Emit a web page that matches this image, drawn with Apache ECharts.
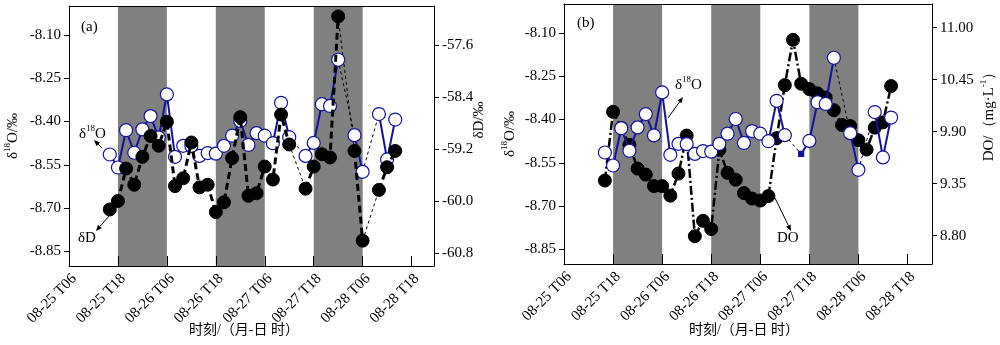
<!DOCTYPE html>
<html>
<head>
<meta charset="utf-8">
<script src="https://cdn.jsdelivr.net/npm/echarts@6/dist/echarts.min.js"></script>
<style>
  html, body { margin: 0; padding: 0; background: #fff; }
  #chart { width: 1000px; height: 345px; }
</style>
</head>
<body>
<div id="chart"></div>
<script>
// Time is counted in hours after 08-25 06:00.
const TICK_HOURS = [0, 12, 24, 36, 48, 60, 72, 84];
const TICK_LABELS = ['08-25 T06', '08-25 T18', '08-26 T06', '08-26 T18',
                     '08-27 T06', '08-27 T18', '08-28 T06', '08-28 T18'];

// Night periods (18:00 - 06:00), shaded grey
const NIGHT_START = [12, 36, 60];
const NIGHT_END = [24, 48, 72];

// Isotope sampling times and values
const ISO_HOURS = [10, 12, 14, 16, 18, 20, 22, 24, 26, 28, 30, 32, 34, 36, 38, 40, 42,
                   44, 46, 48, 50, 52, 54, 58, 60, 62, 64, 66, 70, 72, 76, 78, 80];
const D18O = [-8.514, -8.559, -8.430, -8.508, -8.427, -8.381, -8.455, -8.306, -8.522,
              -8.484, -8.485, -8.519, -8.509, -8.511, -8.484, -8.449, -8.398, -8.481,
              -8.440, -8.449, -8.475, -8.335, -8.454, -8.519, -8.474, -8.340, -8.346,
              -8.186, -8.447, -8.574, -8.374, -8.531, -8.393];
const DD = [-60.13, -60.00, -59.50, -59.75, -59.32, -59.00, -59.15, -58.78, -59.77,
            -59.65, -59.10, -59.79, -59.75, -60.17, -60.02, -59.34, -58.71, -59.92,
            -59.88, -59.47, -59.67, -58.67, -59.13, -59.81, -59.47, -59.28, -59.33,
            -57.16, -59.23, -60.61, -59.83, -59.48, -59.23];

// Dissolved oxygen sampling times and values (mg/L)
const DO_HOURS = [10, 12, 14, 16, 18, 20, 22, 24, 26, 28, 30, 32, 34, 36, 38, 40, 42, 44,
                  46, 48, 50, 52, 54, 56, 58, 60, 62, 64, 66, 68, 70, 72, 74, 76, 78, 80];
const DO = [9.383, 10.110, 9.94, 9.76, 9.509, 9.446, 9.324, 9.324, 9.223, 9.457, 9.858,
            8.794, 8.957, 8.870, 9.708, 9.464, 9.391, 9.250, 9.192, 9.171, 9.219, 9.831,
            10.392, 10.871, 10.407, 10.350, 10.305, 10.260, 10.127, 9.970, 9.960, 9.810,
            9.711, 9.942, 9.998, 10.382];

// Axis ticks
const O_TICKS = [-8.85, -8.70, -8.55, -8.40, -8.25, -8.10];
const D_TICKS = [-60.8, -60.0, -59.2, -58.4, -57.6];
const DO_TICKS = [8.80, 9.35, 9.90, 10.45, 11.00];

// sample shown only as a small marker in panel (b)
const B_SMALL_MARK_HOUR = 58;

const FONT = 'Liberation Serif';
const CJK = '"Liberation Serif", "Noto Sans CJK SC"';
const BLUE = '#12129e';

// Split a sampled series into a solid part (2 h steps) and thin bridges over longer gaps
function splitRuns(hours, vals) {
  const main = [], gaps = [];
  for (let i = 0; i < hours.length; i++) {
    main.push([hours[i], vals[i]]);
    if (i < hours.length - 1 && hours[i + 1] - hours[i] > 2) {
      main.push([hours[i] + 1, null]);
      gaps.push([hours[i], vals[i]], [hours[i + 1], vals[i + 1]], [hours[i + 1] + 0.5, null]);
    }
  }
  return { main, gaps };
}

const iso18 = splitRuns(ISO_HOURS, D18O);
const isoD = splitRuns(ISO_HOURS, DD);
const doRun = splitRuns(DO_HOURS, DO);

const nightAreas = NIGHT_START.map((s, i) => [{ xAxis: s }, { xAxis: NIGHT_END[i] }]);

const supRich = {
  n: { fontFamily: FONT, fontSize: 15, color: '#000', lineHeight: 18, verticalAlign: 'bottom' },
  s: { fontFamily: FONT, fontSize: 9, color: '#000', lineHeight: 18, verticalAlign: 'top' }
};

function xBottom(g, max) {
  return {
    type: 'value', gridIndex: g, min: 0, max: max, position: 'bottom', z: 5,
    axisLine: { show: true, onZero: false, lineStyle: { color: '#000', width: 1 } },
    axisTick: { show: true, inside: true, length: 10, customValues: TICK_HOURS,
                lineStyle: { color: '#000', width: 1 } },
    axisLabel: { customValues: TICK_HOURS, rotate: 45, margin: 5, verticalAlign: 'top',
                 fontFamily: FONT, fontSize: 15, color: '#000',
                 formatter: v => TICK_LABELS[TICK_HOURS.indexOf(v)] },
    splitLine: { show: false }
  };
}
function xTop(g, max) {
  return {
    type: 'value', gridIndex: g, min: 0, max: max, position: 'top', z: 5,
    axisLine: { show: true, onZero: false, lineStyle: { color: '#000', width: 1 } },
    axisTick: { show: false }, axisLabel: { show: false }, splitLine: { show: false }
  };
}
function yAxis(g, side, min, max, ticks, digits, extra) {
  return Object.assign({
    type: 'value', gridIndex: g, min: min, max: max, position: side, z: 5,
    axisLine: { show: true, onZero: false, lineStyle: { color: '#000', width: 1 } },
    axisTick: { show: true, inside: false, length: 5, customValues: ticks,
                lineStyle: { color: '#000', width: 1 } },
    axisLabel: { customValues: ticks, margin: 8, fontFamily: FONT, fontSize: 15, color: '#000',
                 formatter: v => v.toFixed(digits) },
    splitLine: { show: false }
  }, extra || {});
}

const oName = {
  name: '{n|δ}{s|18}{n|O/‰}', nameLocation: 'middle', nameRotate: 90,
  nameTextStyle: { rich: supRich }
};

function bandSeries(xi, yi) {
  return {
    type: 'line', xAxisIndex: xi, yAxisIndex: yi, data: [], silent: true, z: 1,
    markArea: { silent: true, itemStyle: { color: '#808080', opacity: 1 }, data: nightAreas }
  };
}
function bridge(xi, yi, data, z) {
  return {
    type: 'line', xAxisIndex: xi, yAxisIndex: yi, data: data, showSymbol: false, symbol: 'none',
    connectNulls: false, silent: true, z: z,
    lineStyle: { color: '#000', width: 1, type: [3, 3] }
  };
}

// panel (b) marks the sample at B_SMALL_MARK_HOUR with a small square
const iso18B = iso18.main.map(p => p[0] === B_SMALL_MARK_HOUR && p[1] !== null
  ? { value: p, symbol: 'rect', symbolSize: 5, itemStyle: { color: BLUE, borderColor: BLUE } }
  : p);

function arrow(x1, y1, x2, y2) {
  // line from (x1,y1) with an arrow head at (x2,y2)
  const a = Math.atan2(y2 - y1, x2 - x1), L = 6, W = 2.5;
  const bx = x2 - L * Math.cos(a), by = y2 - L * Math.sin(a);
  return [
    { type: 'line', shape: { x1: x1, y1: y1, x2: bx, y2: by },
      style: { stroke: '#000', lineWidth: 1 }, z: 20 },
    { type: 'polygon', shape: { points: [[x2, y2],
        [bx + W * Math.sin(a), by - W * Math.cos(a)],
        [bx - W * Math.sin(a), by + W * Math.cos(a)]] },
      style: { fill: '#000' }, z: 20 }
  ];
}

const gRich = {
  n: { fontFamily: FONT, fontSize: 15, fill: '#000', lineHeight: 18, verticalAlign: 'bottom' },
  s: { fontFamily: FONT, fontSize: 9, fill: '#000', lineHeight: 18, verticalAlign: 'top' }
};
function label(x, y, text, rich, opts) {
  return Object.assign({
    type: 'text', x: x, y: y, z: 20,
    style: Object.assign({ text: text, fontFamily: FONT, fontSize: 15, fill: '#000' },
                         rich ? { rich: gRich } : {})
  }, opts || {});
}

const chart = echarts.init(document.getElementById('chart'), null, { renderer: 'canvas' });
chart.setOption({
  animation: false,
  backgroundColor: '#fff',
  grid: [
    { left: 69, top: 6, width: 365, height: 260, containLabel: false },
    { left: 564, top: 4, width: 368, height: 260, containLabel: false }
  ],
  xAxis: [xBottom(0, 89.5), xTop(0, 89.5), xBottom(1, 90), xTop(1, 90)],
  yAxis: [
    yAxis(0, 'left', -8.9, -8.0, O_TICKS, 2, Object.assign({ nameGap: 48 }, oName)),
    yAxis(0, 'right', -61, -57, D_TICKS, 1),
    yAxis(1, 'left', -8.9, -8.0, O_TICKS, 2, Object.assign({ nameGap: 46 }, oName)),
    yAxis(1, 'right', 8.5, 11.25, DO_TICKS, 2)
  ],
  series: [
    // panel (a)
    bandSeries(0, 0),
    bridge(0, 0, iso18.gaps, 2),
    bridge(0, 1, isoD.gaps, 2),
    {
      name: 'δ18O', type: 'line', xAxisIndex: 0, yAxisIndex: 0, data: iso18.main,
      connectNulls: false, symbol: 'circle', symbolSize: 13, z: 3,
      lineStyle: { color: BLUE, width: 2 },
      itemStyle: { color: '#fff', borderColor: BLUE, borderWidth: 1.2 }
    },
    {
      name: 'δD', type: 'line', xAxisIndex: 0, yAxisIndex: 1, data: isoD.main,
      connectNulls: false, symbol: 'circle', symbolSize: 13, z: 4,
      lineStyle: { color: '#000', width: 3, type: [7, 4] },
      itemStyle: { color: '#000', borderColor: '#000' }
    },
    // panel (b)
    bandSeries(2, 2),
    bridge(2, 2, iso18.gaps, 2),
    {
      name: 'DO', type: 'line', xAxisIndex: 2, yAxisIndex: 3, data: doRun.main,
      connectNulls: false, symbol: 'circle', symbolSize: 13, z: 3,
      lineStyle: { color: '#000', width: 2.5, type: [9, 3, 2, 3] },
      itemStyle: { color: '#000', borderColor: '#000' }
    },
    {
      name: 'δ18O ', type: 'line', xAxisIndex: 2, yAxisIndex: 2, data: iso18B,
      connectNulls: false, symbol: 'circle', symbolSize: 13, z: 4,
      lineStyle: { color: BLUE, width: 2 },
      itemStyle: { color: '#fff', borderColor: BLUE, borderWidth: 1.2 }
    }
  ],
  graphic: [
    label(81, 20, '(a)'),
    label(79, 124, '{n|δ}{s|18}{n|O}', true),
    ...arrow(102, 148, 94, 140),
    label(78, 231, 'δD'),
    ...arrow(110, 215, 96, 231),
    label(478, 120, '', false, { rotation: Math.PI / 2,
      style: { text: '{n|δD/‰}', rich: gRich, align: 'center', verticalAlign: 'middle' } }),
    label(244, 330, '', false, {
      style: { text: '时刻/（月-日 时）', fontFamily: CJK, fontSize: 14, fill: '#000',
               align: 'center', verticalAlign: 'middle' } }),

    label(577, 16, '(b)'),
    label(675, 75, '{n|δ}{s|18}{n|O}', true),
    ...arrow(668, 118, 683, 97),
    label(777, 231, 'DO'),
    ...arrow(775, 198, 791, 231),
    label(988, 113, '', false, { rotation: Math.PI / 2,
      style: { text: '{n|DO/（mg·L}{s|-1}{n|）}', rich: gRich, align: 'center',
               verticalAlign: 'middle' } }),
    label(744, 330, '', false, {
      style: { text: '时刻/（月-日 时）', fontFamily: CJK, fontSize: 14, fill: '#000',
               align: 'center', verticalAlign: 'middle' } })
  ]
});
</script>
</body>
</html>
